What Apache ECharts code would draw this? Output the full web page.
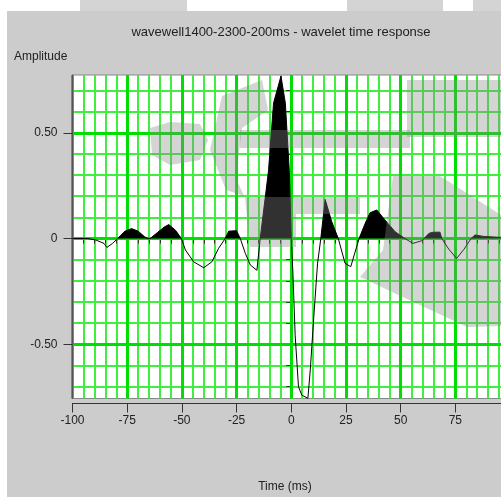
<!DOCTYPE html>
<html><head><meta charset="utf-8">
<script src="https://cdn.jsdelivr.net/npm/echarts@6/dist/echarts.min.js"></script>
<style>html,body{margin:0;padding:0;background:#fff;overflow:hidden;}#c{width:520px;height:497px;}</style>
</head><body><div id="c"></div>
<script>
// ---- data ----
const times = [-100,-93,-89.3,-85.6,-84.3,-81.7,-79.4,-76,-73,-70,-67,-65.5,-64.5,-61,-58,-56,-53,-50.2,
  -48.4,-44.6,-40,-36.3,-33.2,-30.2,-28.6,-25,-23.3,-21,-18.7,-15.7,-14.2,-10.4,-8.1,-4.7,-2.7,-0.9,0,
  0.7,1.8,3.3,4.8,7.6,8.7,10.2,12,13.5,15.5,18.5,21.5,24.6,27.2,31,33.8,36,39.1,42.9,47.5,52,
  55.6,59.7,60.7,63,65,68,68.8,72,75.6,79,82.2,84,88,95,100];
const amplitudes = [0,0,-0.007,-0.023,-0.042,-0.023,0,0.035,0.047,0.035,0.008,0,0,0.03,0.055,0.066,0.04,0,
  -0.054,-0.11,-0.138,-0.11,-0.046,0,0.035,0.037,0,-0.07,-0.125,-0.15,0,0.32,0.64,0.768,0.64,0.32,0,
  -0.15,-0.46,-0.70,-0.74,-0.755,-0.62,-0.385,-0.12,0,0.185,0.08,0,-0.117,-0.133,0,0.072,0.122,0.135,0.087,0.032,0,
  -0.023,-0.01,0,0.025,0.03,0.03,0,-0.05,-0.094,-0.05,0,0.017,0.01,0.006,0.005];
const xTickLabels = [-100,-75,-50,-25,0,25,50,75];
const yMajorTicks = [-0.5,0,0.5];
const yMinorTicks = [-0.7,-0.6,-0.5,-0.4,-0.3,-0.2,-0.1,0,0.1,0.2,0.3,0.4,0.5,0.6,0.7];
const titleText = 'wavewell1400-2300-200ms - wavelet time response';
const yName = 'Amplitude';
const xName = 'Time (ms)';

// ---- chart ----
const FONT = '"Liberation Sans", Arial, sans-serif';
const MAJOR = '#00dd00', MINOR = '#3fee3f', INK = '#222';
const WM = 'rgba(137,137,137,0.36)';
const lineData = times.map((t, i) => [t, amplitudes[i]]);
const posData = times.map((t, i) => [t, Math.max(0, amplitudes[i])]);
const chart = echarts.init(document.getElementById('c'), null, {renderer: 'canvas'});
const yMin = -0.756, yMax = 0.773;

// decorative background watermark (semi-transparent overlay)
const wmShapes = [
  [[80,0],[187,0],[187,11],[80,11]],
  [[347,0],[443,0],[443,11],[347,11]],
  [[473,0],[501,0],[501,11],[473,11]],
  [[240,130],[410,130],[410,148],[240,148]],
  [[150,128],[170,122],[200,124],[208,140],[200,160],[170,165],[152,155]],
  [[222,96],[262,80],[268,110],[242,128],[236,178],[244,196],[226,190],[210,150]],
  [[245,197],[360,197],[360,214],[296,214],[296,247],[250,247]],
  [[407,80],[501,80],[501,137],[407,137]],
  [[393,176],[440,176],[501,215],[501,326],[467,327],[360,277],[383,250]]
];
const wmGraphics = wmShapes.map(p => ({type: 'polygon', z: 100, silent: true, shape: {points: p}, style: {fill: WM}}));

chart.setOption({
  animation: false,
  backgroundColor: '#cccccc',
  graphic: [
    {type: 'rect', shape: {x: 0, y: 0, width: 520, height: 11}, style: {fill: '#fff'}, silent: true},
    {type: 'rect', shape: {x: 0, y: 0, width: 7, height: 497}, style: {fill: '#fff'}, silent: true},
    {type: 'text', x: 281, y: 32, style: {text: titleText, fill: INK, font: '13px ' + FONT, textAlign: 'center', textVerticalAlign: 'middle'}},
    {type: 'text', x: 14, y: 57, style: {text: yName, fill: INK, font: '12px ' + FONT, textAlign: 'left', textVerticalAlign: 'middle'}},
    {type: 'text', x: 285, y: 487, style: {text: xName, fill: INK, font: '12px ' + FONT, textAlign: 'center', textVerticalAlign: 'middle'}}
  ].concat(wmGraphics),
  grid: {left: 72.5, top: 75, right: 10, bottom: 98.5, show: true, backgroundColor: '#fff', borderColor: '#888', borderWidth: 1},
  xAxis: [{
    type: 'value', min: -100, max: 100, interval: 25, offset: 5, z: 1,
    axisLine: {show: true, onZero: false, lineStyle: {color: '#333', width: 1}},
    axisTick: {show: true, length: 9, lineStyle: {color: '#333'}},
    splitLine: {show: true, lineStyle: {color: MAJOR, width: 3}},
    axisLabel: {color: INK, fontSize: 12, fontFamily: FONT, margin: 11,
      formatter: v => xTickLabels.indexOf(v) >= 0 ? String(v) : ''}
  }, {
    type: 'value', min: -100, max: 100, interval: 5, offset: 5, position: 'bottom', z: 0,
    axisLine: {show: false},
    axisTick: {show: true, length: 5, lineStyle: {color: '#333'}},
    splitLine: {show: true, lineStyle: {color: MINOR, width: 2}},
    axisLabel: {show: false}
  }],
  yAxis: [{
    type: 'value', min: yMin, max: yMax, z: 1,
    axisLine: {show: true, onZero: false, lineStyle: {color: '#555'}},
    axisTick: {show: true, length: 9, customValues: yMajorTicks, lineStyle: {color: '#333'}},
    axisLabel: {customValues: yMajorTicks, color: INK, fontSize: 12, fontFamily: FONT, margin: 15,
      formatter: v => v === 0 ? '0' : v.toFixed(2)},
    splitLine: {show: true, lineStyle: {color: MAJOR, width: 3}}
  }, {
    type: 'value', min: yMin, max: yMax, position: 'left', z: 0,
    axisLine: {show: false},
    axisTick: {show: true, length: 5, customValues: yMinorTicks, lineStyle: {color: '#333'}},
    axisLabel: {show: false, customValues: yMinorTicks},
    splitLine: {show: true, lineStyle: {color: MINOR, width: 2}}
  }],
  series: [{
    type: 'line', data: posData, symbol: 'none', silent: true, z: 3,
    lineStyle: {width: 0}, areaStyle: {color: '#000', opacity: 1}
  }, {
    type: 'line', data: lineData, symbol: 'none', silent: true, z: 4,
    lineStyle: {color: '#000', width: 1}
  }]
});
</script></body></html>
